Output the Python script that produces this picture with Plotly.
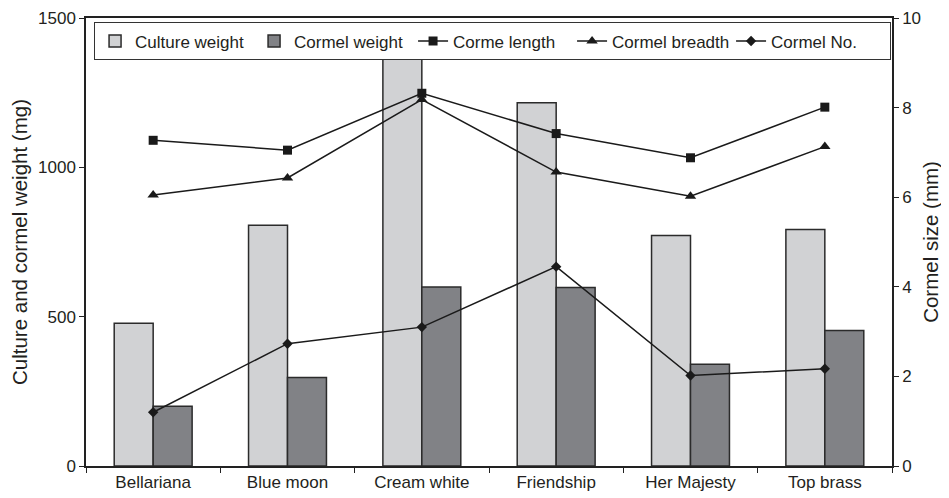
import plotly.graph_objects as go

categories = ["Bellariana", "Blue moon", "Cream white", "Friendship", "Her Majesty", "Top brass"]
culture_weight = [478, 806, 1362, 1216, 772, 792]
cormel_weight = [200, 296, 599, 598, 341, 454]
corme_length = [7.27, 7.05, 8.32, 7.42, 6.88, 8.01]
cormel_breadth = [6.05, 6.43, 8.18, 6.56, 6.02, 7.13]
cormel_no = [1.20, 2.73, 3.10, 4.45, 2.02, 2.17]

FONT = "Liberation Sans, Arial, sans-serif"
TXT = "#231f20"

fig = go.Figure()
fig.add_trace(go.Bar(x=categories, y=culture_weight, name="Culture weight",
                     marker=dict(color="#d1d2d4", line=dict(color="#2b2b2b", width=1.5))))
fig.add_trace(go.Bar(x=categories, y=cormel_weight, name="Cormel weight",
                     marker=dict(color="#818286", line=dict(color="#2b2b2b", width=1.5))))
fig.add_trace(go.Scatter(x=categories, y=corme_length, name="Corme length", yaxis="y2",
                         mode="lines+markers", line=dict(color="#1a1a1a", width=1.5),
                         marker=dict(symbol="square", size=9, color="#1a1a1a")))
fig.add_trace(go.Scatter(x=categories, y=cormel_breadth, name="Cormel breadth", yaxis="y2",
                         mode="lines+markers", line=dict(color="#1a1a1a", width=1.5),
                         marker=dict(symbol="triangle-up", size=10, color="#1a1a1a")))
fig.add_trace(go.Scatter(x=categories, y=cormel_no, name="Cormel No.", yaxis="y2",
                         mode="lines+markers", line=dict(color="#1a1a1a", width=1.5),
                         marker=dict(symbol="diamond", size=8, color="#1a1a1a")))

fig.update_layout(
    width=941, height=490,
    margin=dict(l=78, r=57, t=10, b=32),
    paper_bgcolor="white", plot_bgcolor="white",
    font=dict(family=FONT, size=17, color=TXT),
    barmode="group", bargap=0.42, bargroupgap=0,
    xaxis=dict(showline=True, linecolor="#222", linewidth=1.5, mirror=True,
               ticks="outside", tickson="boundaries", ticklen=5, tickcolor="#222",
               showgrid=False, tickfont=dict(size=17), automargin=False),
    yaxis=dict(range=[0, 1500], tickvals=[0, 500, 1000, 1500], showline=True,
               linecolor="#222", linewidth=1.5, ticks="outside", ticklen=5,
               tickcolor="#222", showgrid=False, zeroline=False, automargin=False,
               title=dict(text="Culture and cormel weight (mg)", font=dict(size=20.5), standoff=8),
               tickfont=dict(size=17)),
    yaxis2=dict(range=[0, 10], tickvals=[0, 2, 4, 6, 8, 10], overlaying="y", side="right",
                showline=True, linecolor="#222", linewidth=1.5, ticks="outside", ticklen=5,
                tickcolor="#222", showgrid=False, zeroline=False, automargin=False,
                title=dict(text="Cormel size (mm)", font=dict(size=20.5), standoff=4),
                tickfont=dict(size=17)),
    legend=dict(orientation="h", x=0.01, y=0.99, xanchor="left", yanchor="top",
                bordercolor="#333", borderwidth=1, bgcolor="white",
                font=dict(size=17), itemwidth=30, traceorder="normal",
                entrywidth=114, entrywidthmode="pixels"),
)

fig.write_html("out.html")
